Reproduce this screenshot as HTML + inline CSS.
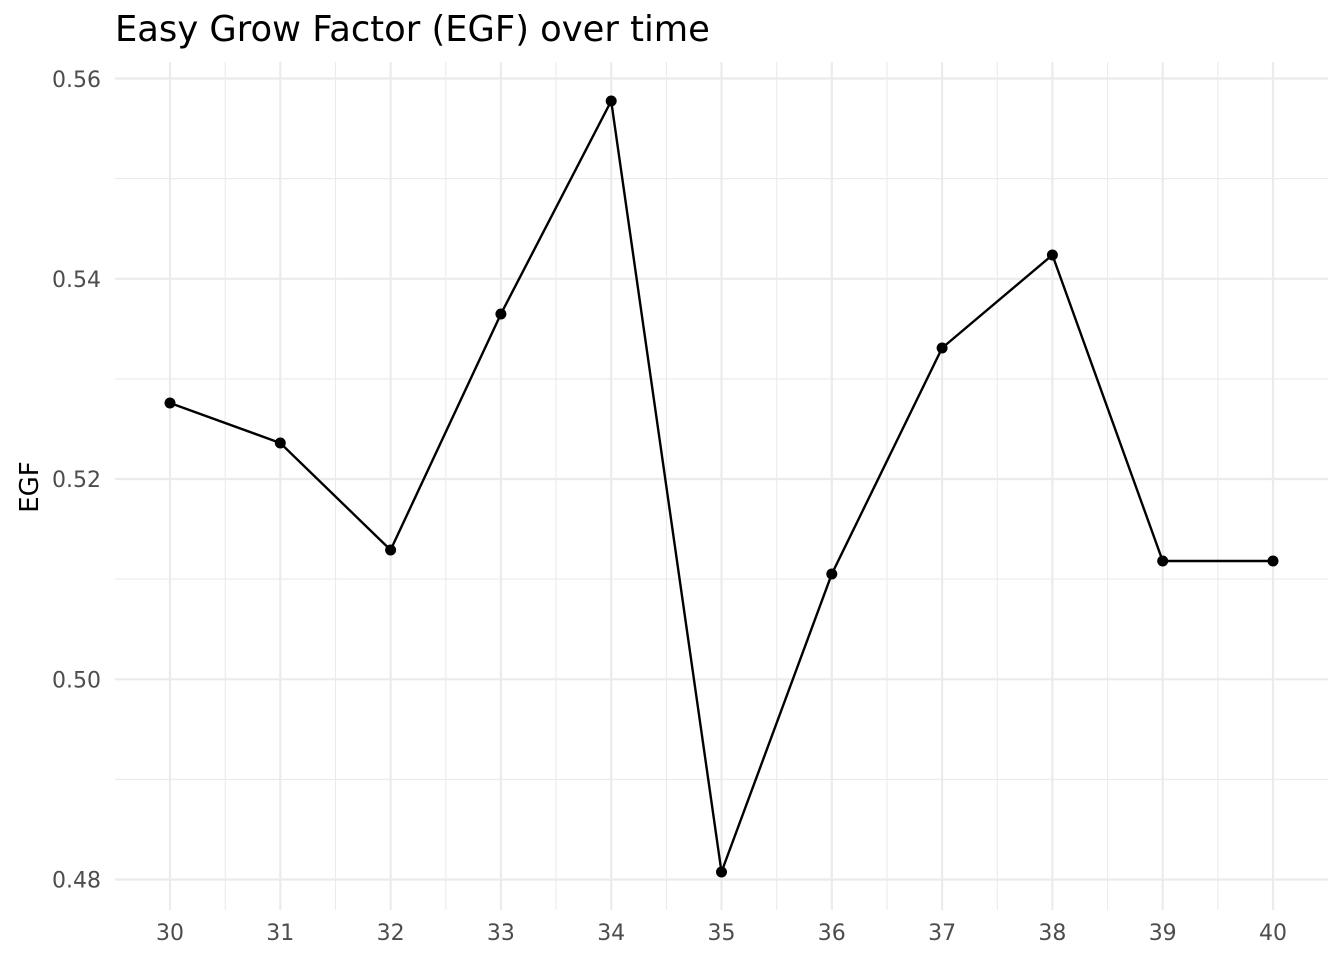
<!DOCTYPE html>
<html><head><meta charset="utf-8"><style>
html,body{margin:0;padding:0;background:#fff;}
svg{display:block;font-family:"DejaVu Sans","Liberation Sans",sans-serif;}
</style></head><body>
<svg width="1344" height="960" viewBox="0 0 1344 960" xmlns="http://www.w3.org/2000/svg">
<rect width="1344" height="960" fill="#fff"/>
<g stroke="#ebebeb" stroke-width="1.1">
<line x1="115" x2="1328" y1="178.6" y2="178.6"/>
<line x1="115" x2="1328" y1="378.9" y2="378.9"/>
<line x1="115" x2="1328" y1="579.1" y2="579.1"/>
<line x1="115" x2="1328" y1="779.4" y2="779.4"/>
<line y1="62" y2="910" x1="225.2" x2="225.2"/>
<line y1="62" y2="910" x1="335.5" x2="335.5"/>
<line y1="62" y2="910" x1="445.8" x2="445.8"/>
<line y1="62" y2="910" x1="556.1" x2="556.1"/>
<line y1="62" y2="910" x1="666.4" x2="666.4"/>
<line y1="62" y2="910" x1="776.7" x2="776.7"/>
<line y1="62" y2="910" x1="887" x2="887"/>
<line y1="62" y2="910" x1="997.3" x2="997.3"/>
<line y1="62" y2="910" x1="1107.6" x2="1107.6"/>
<line y1="62" y2="910" x1="1217.9" x2="1217.9"/>
</g>
<g stroke="#ebebeb" stroke-width="2.2">
<line x1="115" x2="1328" y1="78.5" y2="78.5"/>
<line x1="115" x2="1328" y1="278.8" y2="278.8"/>
<line x1="115" x2="1328" y1="479" y2="479"/>
<line x1="115" x2="1328" y1="679.3" y2="679.3"/>
<line x1="115" x2="1328" y1="879.5" y2="879.5"/>
<line y1="62" y2="910" x1="170" x2="170"/>
<line y1="62" y2="910" x1="280.3" x2="280.3"/>
<line y1="62" y2="910" x1="390.6" x2="390.6"/>
<line y1="62" y2="910" x1="500.9" x2="500.9"/>
<line y1="62" y2="910" x1="611.2" x2="611.2"/>
<line y1="62" y2="910" x1="721.5" x2="721.5"/>
<line y1="62" y2="910" x1="831.8" x2="831.8"/>
<line y1="62" y2="910" x1="942.1" x2="942.1"/>
<line y1="62" y2="910" x1="1052.4" x2="1052.4"/>
<line y1="62" y2="910" x1="1162.7" x2="1162.7"/>
<line y1="62" y2="910" x1="1273" x2="1273"/>
</g>
<polyline fill="none" stroke="#000" stroke-width="2.4" points="170,403 280.3,443 390.6,550 500.9,314 611.2,101 721.5,872 831.8,574 942.1,348 1052.4,255 1162.7,561 1273,561"/>
<g fill="#000">
<circle cx="170" cy="403" r="5.5"/><circle cx="280.3" cy="443" r="5.5"/><circle cx="390.6" cy="550" r="5.5"/>
<circle cx="500.9" cy="314" r="5.5"/><circle cx="611.2" cy="101" r="5.5"/><circle cx="721.5" cy="872" r="5.5"/>
<circle cx="831.8" cy="574" r="5.5"/><circle cx="942.1" cy="348" r="5.5"/><circle cx="1052.4" cy="255" r="5.5"/>
<circle cx="1162.7" cy="561" r="5.5"/><circle cx="1273" cy="561" r="5.5"/>
</g>
<g fill="#4d4d4d" font-size="22" text-anchor="end">
<text x="101" y="87">0.56</text>
<text x="101" y="287">0.54</text>
<text x="101" y="487">0.52</text>
<text x="101" y="687.5">0.50</text>
<text x="101" y="887.5">0.48</text>
</g>
<g fill="#4d4d4d" font-size="22" text-anchor="middle">
<text x="170" y="940">30</text><text x="280.3" y="940">31</text><text x="390.6" y="940">32</text>
<text x="500.9" y="940">33</text><text x="611.2" y="940">34</text><text x="721.5" y="940">35</text>
<text x="831.8" y="940">36</text><text x="942.1" y="940">37</text><text x="1052.4" y="940">38</text>
<text x="1162.7" y="940">39</text><text x="1273" y="940">40</text>
</g>
<text x="38" y="487" font-size="26" fill="#000" text-anchor="middle" transform="rotate(-90 38 487)">EGF</text>
<text x="115" y="41" font-size="35.3" fill="#000">Easy Grow Factor (EGF) over time</text>
</svg>
</body></html>
